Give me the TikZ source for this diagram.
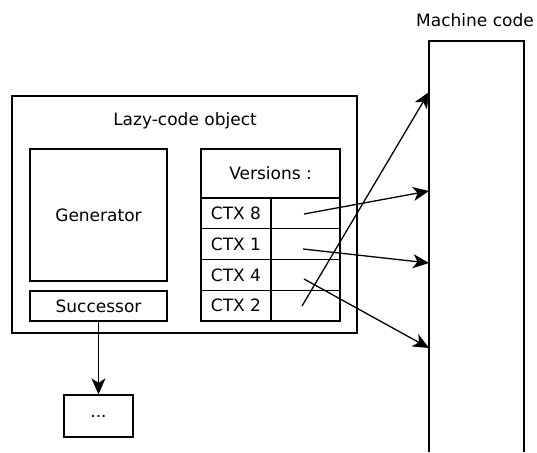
\documentclass[tikz,border=0pt]{standalone}
\usepackage{fontspec}
\setmainfont{DejaVu Sans}
\usetikzlibrary{arrows.meta}

\def \rowsep {30.75}
\def \rowtop {198}
\def \ctxx {236}
\def \valx {305.5}
\def \codex {429}

\tikzstyle{box}=[draw, rectangle, inner sep=0pt, line width=1.3pt]
\tikzstyle{lbl}=[inner sep=0pt, anchor=base]
\tikzstyle{link}=[-{Stealth[length=16pt, width=14pt, inset=4.5pt]}, line width=1.3pt]

\begin{document}
\begin{tikzpicture}[x=1pt, y=-1pt, font=\fontsize{17}{20}\selectfont]
\useasboundingbox (0,0) rectangle (537,452);

\node[box, minimum width=345pt, minimum height=237pt] (lazy) at (184.5, 214.5) {};
\node[lbl] (lazytitle) at (185, 125.5) {Lazy-code object};

\node[box, minimum width=137pt, minimum height=132pt] (gen) at (98.5, 215) {Generator};
\node[box, minimum width=137pt, minimum height=30pt] (succ) at (98.5, 306) {Successor};
\node[box, minimum width=69pt, minimum height=42pt] (dots) at (98.5, 416) {...};

\node[box, minimum width=139pt, minimum height=49pt] (ver) at (270.5, 173.5) {Versions :};

\foreach \c [count=\i] in {8, 1, 4, 2} {
    \node[box, minimum width=70pt, minimum height=\rowsep pt] (c\i) at (\ctxx, {\rowtop + (\i - 0.5) * \rowsep}) {CTX \c};
    \node[box, minimum width=69pt, minimum height=\rowsep pt] (v\i) at (\valx, {\rowtop + (\i - 0.5) * \rowsep}) {};
}

% machine code column, open at the bottom
\node[lbl] (codelbl) at (475, 26.5) {Machine code};
\draw[line width=1.3pt] (\codex, 452) -- (\codex, 41) -- (524, 41) -- (524, 452);

\foreach \i/\sx/\sy/\my in {1/304/214/191, 2/303/249/263, 3/304/279/348, 4/302/306/92} {
    \coordinate (s\i) at (\sx, \sy);
    \coordinate (m\i) at (\codex, \my);
    \draw[link] (s\i) -- (m\i);
}

\draw[link] (succ) -- (dots);

\end{tikzpicture}
\end{document}
